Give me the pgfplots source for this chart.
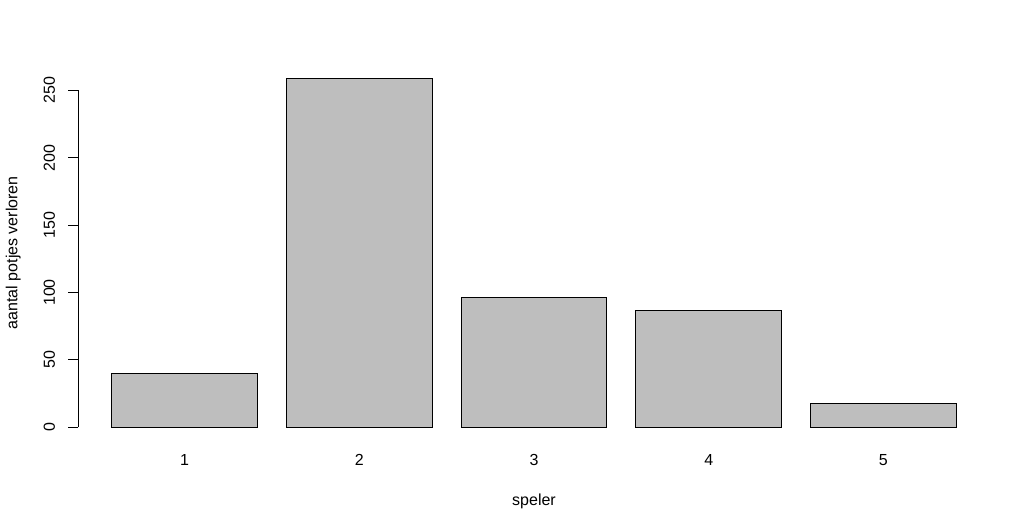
\documentclass[border=0pt]{standalone}
\usepackage{fontspec}
\setmainfont{Liberation Sans}
\usepackage{pgfplots}
\pgfplotsset{compat=1.18}
\definecolor{bargray}{RGB}{190,190,190}
\begin{document}
\begin{tikzpicture}
\path[use as bounding box] (0,0) rectangle (773.25pt,396.75pt);
\begin{axis}[
  at={(58.5pt,65.8pt)}, anchor=south west,
  scale only axis, width=684pt, height=282.8pt,
  xmin=-0.032, xmax=6.232, ymin=-10.36, ymax=269.36,
  axis line style={draw=none},
  xtick={0.7,1.9,3.1,4.3,5.5},
  xticklabels={1,2,3,4,5},
  xtick style={draw=none},
  ytick={0,50,100,150,200,250},
  ytick pos=left,
  tick align=outside,
  major tick length=7.2pt,
  ytick style={black, line width=0.75pt},
  /pgf/number format/assume math mode=true,
  ticklabel style={font=\fontsize{12}{14.4}\selectfont, text=black},
  xticklabel style={anchor=base, inner sep=0pt, yshift=-11.3pt},
  yticklabel style={xshift=-10.05pt, rotate=90, anchor=base, inner sep=0pt},
  xlabel={speler},
  ylabel={aantal potjes verloren},
  label style={font=\fontsize{12}{14.4}\selectfont, text=black},
  xlabel style={at={(axis description cs:0.5,0)}, anchor=base, inner sep=0pt, yshift=-48.5pt},
  ylabel style={at={(axis description cs:0,0.5)}, anchor=base, inner sep=0pt, yshift=45.5pt},
  clip=false,
]
\addplot[ybar, bar width=1, bar shift=0pt, fill=bargray, draw=black, line width=0.75pt]
  coordinates {(0.7,40) (1.9,259) (3.1,96) (4.3,87) (5.5,18)};
\draw[black, line width=0.75pt] (axis cs:-0.032,0) -- (axis cs:-0.032,250);
\end{axis}
\end{tikzpicture}
\end{document}
